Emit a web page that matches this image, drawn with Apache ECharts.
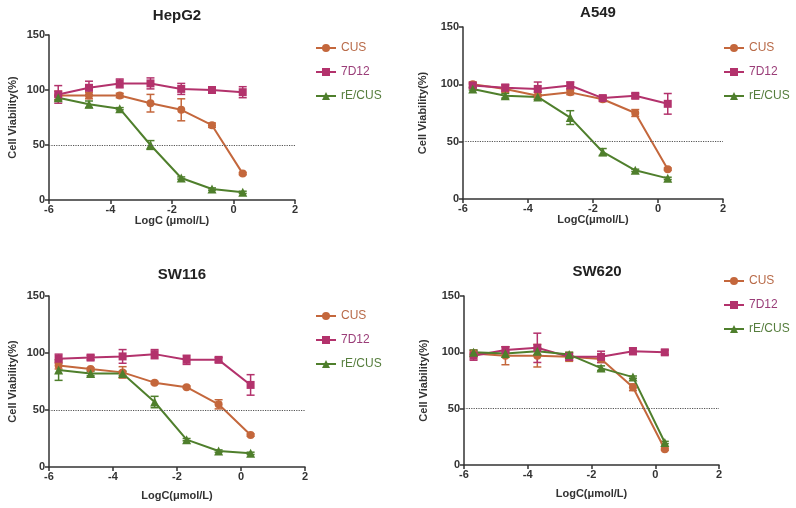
<!DOCTYPE html>
<html><head><meta charset="utf-8">
<script src="https://cdn.jsdelivr.net/npm/echarts@6/dist/echarts.min.js"></script>
<style>html,body{margin:0;padding:0;background:#fff}#c{width:796px;height:508px}</style>
</head><body><div id="c"></div>
<script>
const xVals = [-5.7, -4.7, -3.7, -2.7, -1.7, -0.7, 0.3];
const seriesNames = ['CUS', '7D12', 'rE/CUS'];
const panelTitles = ['HepG2', 'A549', 'SW116', 'SW620'];
const xNames = ['LogC (μmol/L)', 'LogC(μmol/L)', 'LogC(μmol/L)', 'LogC(μmol/L)'];
const yTicks = [0, 50, 100, 150];
const xTicks = [-6, -4, -2, 0, 2];

// HepG2
const hepg2CUS = [95, 95, 95, 88, 82, 68, 24];
const hepg2CUSErr = [4, 3, 2, 8, 10, 2, 1];
const hepg27D12 = [96, 102, 106, 106, 101, 100, 98];
const hepg27D12Err = [8, 6, 4, 5, 5, 1, 5];
const hepg2RE = [93, 87, 83, 50, 20, 10, 7];
const hepg2REErr = [2, 3, 1, 4, 1, 1, 1];
// A549
const a549CUS = [100, 96, 90, 93, 87, 75, 26];
const a549CUSErr = [2, 3, 3, 2, 2, 3, 1];
const a5497D12 = [99, 97, 96, 99, 88, 90, 83];
const a5497D12Err = [2, 3, 6, 3, 2, 2, 9];
const a549RE = [96, 90, 89, 71, 41, 25, 18];
const a549REErr = [1, 2, 2, 6, 3, 1, 1];
// SW116
const sw116CUS = [89, 86, 83, 74, 70, 55, 28];
const sw116CUSErr = [3, 1, 5, 1, 1, 4, 1];
const sw1167D12 = [95, 96, 97, 99, 94, 94, 72];
const sw1167D12Err = [4, 2, 6, 4, 4, 2, 9];
const sw116RE = [85, 82, 82, 57, 24, 14, 12];
const sw116REErr = [9, 2, 2, 5, 1, 1, 1];
// SW620
const sw620CUS = [99, 97, 97, 96, 94, 69, 14];
const sw620CUSErr = [3, 8, 10, 4, 3, 3, 1];
const sw6207D12 = [97, 102, 104, 96, 96, 101, 100];
const sw6207D12Err = [4, 3, 13, 3, 5, 3, 2];
const sw620RE = [100, 99, 101, 98, 86, 78, 20];
const sw620REErr = [2, 2, 3, 2, 2, 1, 1];

const panels = [
  [[hepg2CUS, hepg2CUSErr], [hepg27D12, hepg27D12Err], [hepg2RE, hepg2REErr]],
  [[a549CUS, a549CUSErr], [a5497D12, a5497D12Err], [a549RE, a549REErr]],
  [[sw116CUS, sw116CUSErr], [sw1167D12, sw1167D12Err], [sw116RE, sw116REErr]],
  [[sw620CUS, sw620CUSErr], [sw6207D12, sw6207D12Err], [sw620RE, sw620REErr]]
];

const colors = ['#c4673c', '#b3326c', '#4f7f2c'];
const textColors = ['#b86a48', '#9a3d78', '#557d3c'];
const symbols = ['circle', 'rect', 'triangle'];
const FONT = 'Liberation Sans, Arial, sans-serif';

const grids = [
  {left: 49, top: 35, width: 246, height: 165},
  {left: 463, top: 27, width: 260, height: 172},
  {left: 49, top: 296, width: 256, height: 171},
  {left: 464, top: 296, width: 255, height: 169}
];
const titlePos = [[172, 3], [593, 0], [177, 262], [592, 259]];
const legendPos = [[310, 37], [718, 37], [310, 305], [718, 270]];
const yNameGap = [31, 35, 31, 35];
const xNameGap = [15, 15, 23, 23];

const option = {
  backgroundColor: '#fff',
  animation: false,
  textStyle: {fontFamily: FONT},
  title: panelTitles.map((t, i) => ({
    text: t, left: titlePos[i][0], top: titlePos[i][1], textAlign: 'center',
    textStyle: {fontSize: 15, fontWeight: 'bold', color: '#222', fontFamily: FONT}
  })),
  legend: legendPos.map(p => ({
    left: p[0], top: p[1], orient: 'vertical', itemWidth: 20, itemHeight: 10, itemGap: 12,
    data: seriesNames.map((n, k) => ({name: n, textStyle: {color: textColors[k]}})),
    textStyle: {fontSize: 12, fontFamily: FONT}
  })),
  grid: grids,
  xAxis: grids.map((g, i) => ({
    type: 'value', gridIndex: i, min: -6, max: 2, interval: 2,
    name: xNames[i], nameLocation: 'middle', nameGap: xNameGap[i],
    nameTextStyle: {fontSize: 11, fontWeight: 'bold', color: '#333', fontFamily: FONT},
    axisLine: {show: true, onZero: false, lineStyle: {color: '#333', width: 1.5}},
    axisTick: {show: true, inside: false, length: 4, lineStyle: {color: '#333', width: 1.5}},
    axisLabel: {fontSize: 11, fontWeight: 'bold', color: '#333', margin: 4, fontFamily: FONT},
    splitLine: {show: false}
  })),
  yAxis: grids.map((g, i) => ({
    type: 'value', gridIndex: i, min: 0, max: 150, interval: 50,
    name: 'Cell Viability(%)', nameLocation: 'middle', nameGap: yNameGap[i], nameRotate: 90,
    nameTextStyle: {fontSize: 11, fontWeight: 'bold', color: '#333', fontFamily: FONT},
    axisLine: {show: true, onZero: false, lineStyle: {color: '#333', width: 1.5}},
    axisTick: {show: true, inside: false, length: 4, lineStyle: {color: '#333', width: 1.5}},
    axisLabel: {fontSize: 11, fontWeight: 'bold', color: '#333', margin: 4, fontFamily: FONT},
    splitLine: {show: false}
  })),
  series: []
};

panels.forEach((panel, i) => {
  panel.forEach((d, k) => {
    const vals = d[0], errs = d[1];
    option.series.push({
      type: 'custom', xAxisIndex: i, yAxisIndex: i, z: 1, silent: true,
      data: xVals.map((x, j) => [x, vals[j] - errs[j], vals[j] + errs[j]]),
      renderItem: function (params, api) {
        const lo = api.coord([api.value(0), api.value(1)]);
        const hi = api.coord([api.value(0), api.value(2)]);
        const w = 4;
        const st = {stroke: colors[k], lineWidth: 1.5};
        return {type: 'group', children: [
          {type: 'line', shape: {x1: lo[0], y1: lo[1], x2: hi[0], y2: hi[1]}, style: st},
          {type: 'line', shape: {x1: lo[0] - w, y1: lo[1], x2: lo[0] + w, y2: lo[1]}, style: st},
          {type: 'line', shape: {x1: hi[0] - w, y1: hi[1], x2: hi[0] + w, y2: hi[1]}, style: st}
        ]};
      }
    });
    const s = {
      name: seriesNames[k], type: 'line', xAxisIndex: i, yAxisIndex: i, z: 3,
      data: xVals.map((x, j) => [x, vals[j]]),
      symbol: symbols[k], symbolSize: k === 2 ? 9 : 8,
      lineStyle: {color: colors[k], width: 2},
      itemStyle: {color: colors[k]}
    };
    if (k === 0) {
      s.markLine = {
        silent: true, symbol: ['none', 'none'], label: {show: false},
        lineStyle: {type: 'dotted', color: '#555', width: 1.2},
        data: [{yAxis: 50}]
      };
    }
    option.series.push(s);
  });
});

const chart = echarts.init(document.getElementById('c'), null, {renderer: 'canvas'});
chart.setOption(option);
</script>
</body></html>
